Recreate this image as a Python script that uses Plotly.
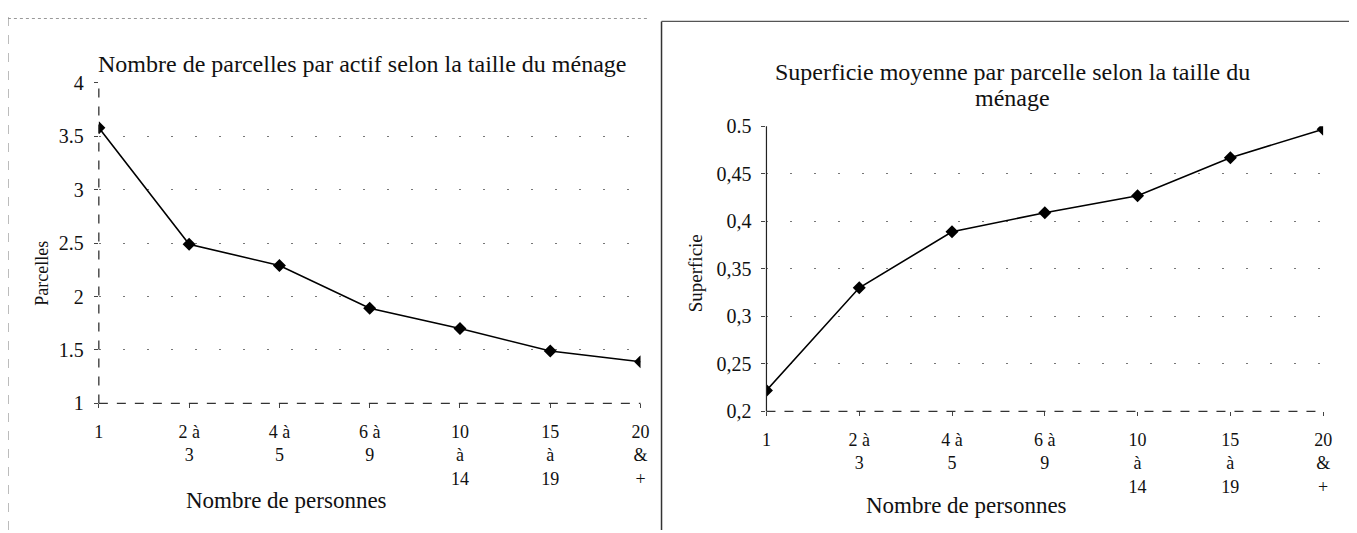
import plotly.graph_objects as go

# categories (household size) and values
categories = ["1", "2 à 3", "4 à 5", "6 à 9", "10 à 14", "15 à 19", "20 & +"]
tick_labels = ["1", "2 à<br>3", "4 à<br>5", "6 à<br>9", "10<br>à<br>14", "15<br>à<br>19", "20<br>&<br>+"]
parcelles = [3.58, 2.49, 2.29, 1.89, 1.70, 1.49, 1.39]
superficie = [0.222, 0.330, 0.389, 0.409, 0.427, 0.467, 0.497]

left_ticks = [1, 1.5, 2, 2.5, 3, 3.5, 4]
left_ticktext = ["1", "1.5", "2", "2.5", "3", "3.5", "4"]
right_ticks = [0.2, 0.25, 0.3, 0.35, 0.4, 0.45, 0.5]
right_ticktext = ["0,2", "0,25", "0,3", "0,35", "0,4", "0,45", "0.5"]

W, H = 1357, 533
FONT = "Liberation Serif, Times New Roman, serif"

# the page renders the paper slightly offset/scaled; map screen pixels to paper fractions
OX, SX = 12.1, 0.991
OY, SY = 15.5, 0.969


def px_x(v):
    return ((v - OX) / SX) / W


def px_y(v):
    return 1 - ((v - OY) / SY) / H


fig = go.Figure()

for xa, ya, vals in [("x", "y", parcelles), ("x2", "y2", superficie)]:
    fig.add_trace(go.Scatter(
        x=list(range(len(categories))), y=vals, xaxis=xa, yaxis=ya,
        mode="lines+markers",
        line=dict(color="black", width=1.6),
        marker=dict(symbol="diamond", size=10, color="black"),
        hovertext=categories, showlegend=False,
    ))

grid = dict(showgrid=True, gridcolor="#777", gridwidth=1, griddash="2px,22px")
xcommon = dict(tickmode="array", tickvals=list(range(7)), ticktext=tick_labels,
               range=[0, 6], showgrid=False, zeroline=False, ticks="outside",
               ticklen=4, tickcolor="#444", showline=False, ticklabelstandoff=8,
               tickfont=dict(family=FONT, size=18, color="#111"))
ycommon = dict(zeroline=False, ticks="outside", ticklen=4, tickcolor="#444",
               showline=False, ticklabelstandoff=6,
               tickfont=dict(family=FONT, size=20, color="#111"), **grid)

fig.update_layout(
    width=W, height=H, margin=dict(l=0, r=0, t=0, b=0),
    paper_bgcolor="white", plot_bgcolor="white",
    font=dict(family=FONT, color="#111"),
    xaxis=dict(domain=[px_x(99), px_x(641)], anchor="y", **xcommon),
    yaxis=dict(domain=[px_y(404), px_y(80)], anchor="x", range=[1, 4],
               tickmode="array", tickvals=left_ticks, ticktext=left_ticktext, **ycommon),
    xaxis2=dict(domain=[px_x(767), px_x(1324)], anchor="y2", **xcommon),
    yaxis2=dict(domain=[px_y(412), px_y(124)], anchor="x2", range=[0.2, 0.5],
                tickmode="array", tickvals=right_ticks, ticktext=right_ticktext, **ycommon),
)

# axis lines (dashed like the scan)
for xr, yr, ydash in [("x domain", "y domain", "dash"), ("x2 domain", "y2 domain", "solid")]:
    fig.add_shape(type="line", xref=xr, yref=yr, x0=0, x1=0, y0=0, y1=1,
                  line=dict(color="#222", width=1.2, dash=ydash))
    fig.add_shape(type="line", xref=xr, yref=yr, x0=0, x1=1, y0=0, y1=0,
                  line=dict(color="#333", width=1.2, dash="dash"))

# chart frames
fig.add_shape(type="line", xref="paper", yref="paper", x0=px_x(8), x1=px_x(8), y0=0, y1=px_y(8),
              line=dict(color="#555", width=1, dash="dash"))
fig.add_shape(type="line", xref="paper", yref="paper", x0=px_x(8), x1=px_x(650), y0=px_y(15), y1=px_y(15),
              line=dict(color="#999", width=1, dash="dot"))
fig.add_shape(type="line", xref="paper", yref="paper", x0=px_x(662), x1=px_x(662), y0=0, y1=px_y(18),
              line=dict(color="#333", width=1.5))
fig.add_shape(type="line", xref="paper", yref="paper", x0=px_x(662), x1=1, y0=px_y(18), y1=px_y(18),
              line=dict(color="#555", width=1.2))

annotations = [
    dict(text="Nombre de parcelles par actif selon la taille du ménage", x=px_x(362), y=px_y(61), size=24),
    dict(text="Superficie moyenne par parcelle selon la taille du", x=px_x(1013), y=px_y(69), size=24),
    dict(text="ménage", x=px_x(1013), y=px_y(95), size=24),
    dict(text="Nombre de personnes", x=px_x(287), y=px_y(502), size=23),
    dict(text="Nombre de personnes", x=px_x(967), y=px_y(507), size=23),
]
for a in annotations:
    fig.add_annotation(text=a["text"], x=a["x"], y=a["y"], xref="paper", yref="paper",
                       showarrow=False, xanchor="center", yanchor="middle",
                       font=dict(family=FONT, size=a["size"], color="#111"))

fig.add_annotation(text="Parcelles", x=px_x(30), y=px_y(272), xref="paper", yref="paper",
                   showarrow=False, textangle=-90, font=dict(family=FONT, size=18, color="#111"))
fig.add_annotation(text="Superficie", x=px_x(696), y=px_y(272), xref="paper", yref="paper",
                   showarrow=False, textangle=-90, font=dict(family=FONT, size=19, color="#111"))

fig.write_html("out.html")
